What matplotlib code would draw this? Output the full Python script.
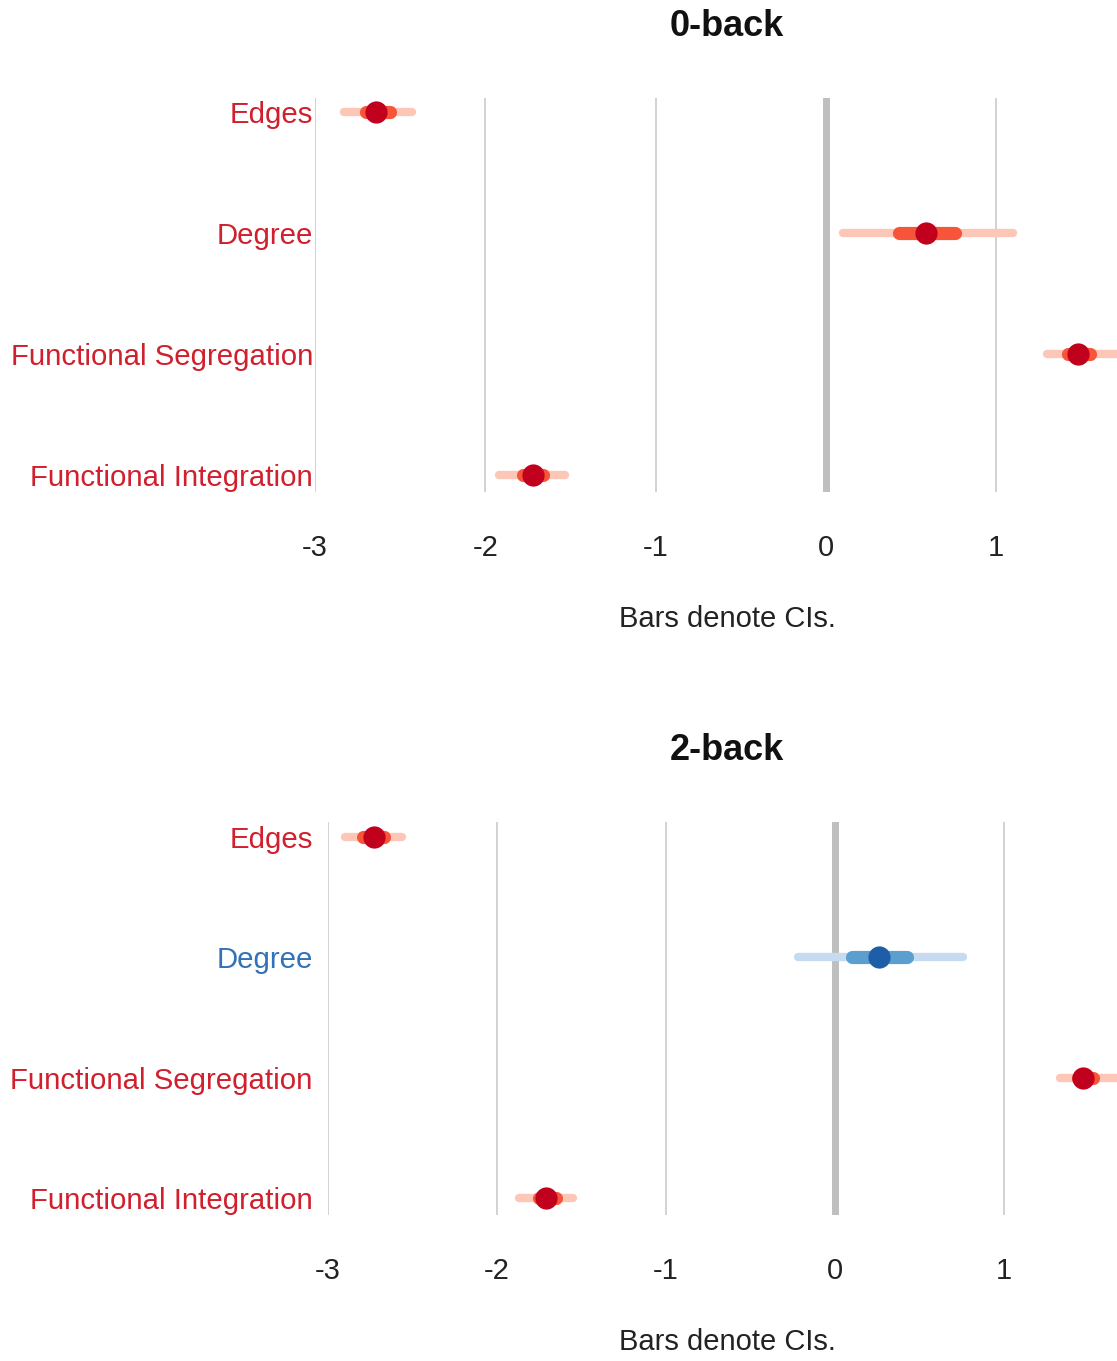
import numpy as np
import matplotlib.pyplot as plt

plt.rcParams['font.family'] = ['Liberation Sans', 'DejaVu Sans']

labels = ['Edges', 'Degree', 'Functional Segregation', 'Functional Integration']
ticks = [-3, -2, -1, 0, 1]

# 0-back estimates with inner/outer intervals
est_0 = [-2.64, 0.59, 1.48, -1.72]
inner_lo_0 = [-2.70, 0.43, 1.42, -1.78]
inner_hi_0 = [-2.56, 0.76, 1.55, -1.66]
outer_lo_0 = [-2.83, 0.10, 1.30, -1.92]
outer_hi_0 = [-2.43, 1.10, 1.90, -1.53]

# 2-back estimates with inner/outer intervals
est_2 = [-2.73, 0.26, 1.47, -1.71]
inner_lo_2 = [-2.79, 0.10, 1.44, -1.75]
inner_hi_2 = [-2.67, 0.43, 1.53, -1.65]
outer_lo_2 = [-2.90, -0.22, 1.33, -1.87]
outer_hi_2 = [-2.56, 0.76, 1.85, -1.55]

sign_0 = ['neg', 'pos', 'pos', 'neg']
sign_2 = ['neg', 'blue', 'pos', 'neg']

red = dict(point='#c0001d', inner='#f7553a', outer='#fcc7b7', text='#d0202e')
blue = dict(point='#1e5ea8', inner='#5a9fcf', outer='#c6dbef', text='#3272b8')


def palette(s):
    return blue if s == 'blue' else red


def panel(ax, est, ilo, ihi, olo, ohi, signs, xmax, label_pad):
    y = np.arange(len(labels))
    for t in ticks:
        if t == 0:
            ax.axvline(t, color='#bfbfbf', lw=5, zorder=1)
        else:
            ax.axvline(t, color='#cfcfcf', lw=1.3, zorder=1)
    for i in range(len(labels)):
        c = palette(signs[i])
        ax.plot([olo[i], ohi[i]], [y[i], y[i]], color=c['outer'], lw=6,
                solid_capstyle='round', zorder=2)
        ax.plot([ilo[i], ihi[i]], [y[i], y[i]], color=c['inner'], lw=9.5,
                solid_capstyle='round', zorder=3)
        ax.plot(est[i], y[i], 'o', color=c['point'], ms=16, mec='none', zorder=4)
    ax.set_xlim(-3, xmax)
    ax.set_ylim(3.14, -0.12)
    ax.set_xticks(ticks)
    ax.set_xticklabels([str(t) for t in ticks], fontsize=21, color='#222222')
    ax.set_yticks(y)
    ax.set_yticklabels(labels, fontsize=21.2)
    for lab, s in zip(ax.get_yticklabels(), signs):
        lab.set_color(palette(s)['text'])
    ax.tick_params(axis='x', length=0, pad=30)
    ax.tick_params(axis='y', length=0, pad=label_pad)
    for sp in ax.spines.values():
        sp.set_visible(False)


fig = plt.figure(figsize=(11.17, 13.61), dpi=100)
ax1 = fig.add_axes([0.282, 0.6385, 0.718, 0.2895])
ax2 = fig.add_axes([0.2936, 0.1073, 0.7064, 0.2887])

panel(ax1, est_0, inner_lo_0, inner_hi_0, outer_lo_0, outer_hi_0,
      sign_0, 1.71, 1.5)
panel(ax2, est_2, inner_lo_2, inner_hi_2, outer_lo_2, outer_hi_2,
      sign_2, 1.67, 11)

fig.text(727 / 1117, 1 - 27 / 1361, '0-back', ha='center', va='center',
         fontsize=26, fontweight='bold', color='#111111')
fig.text(727 / 1117, 1 - 750 / 1361, '2-back', ha='center', va='center',
         fontsize=26, fontweight='bold', color='#111111')
fig.text(727 / 1117, 1 - 619 / 1361, 'Bars denote CIs.', ha='center', va='center',
         fontsize=21, color='#222222')
fig.text(727 / 1117, 1 - 1342 / 1361, 'Bars denote CIs.', ha='center', va='center',
         fontsize=21, color='#222222')

fig.savefig('out.png', dpi=100, facecolor='white')
